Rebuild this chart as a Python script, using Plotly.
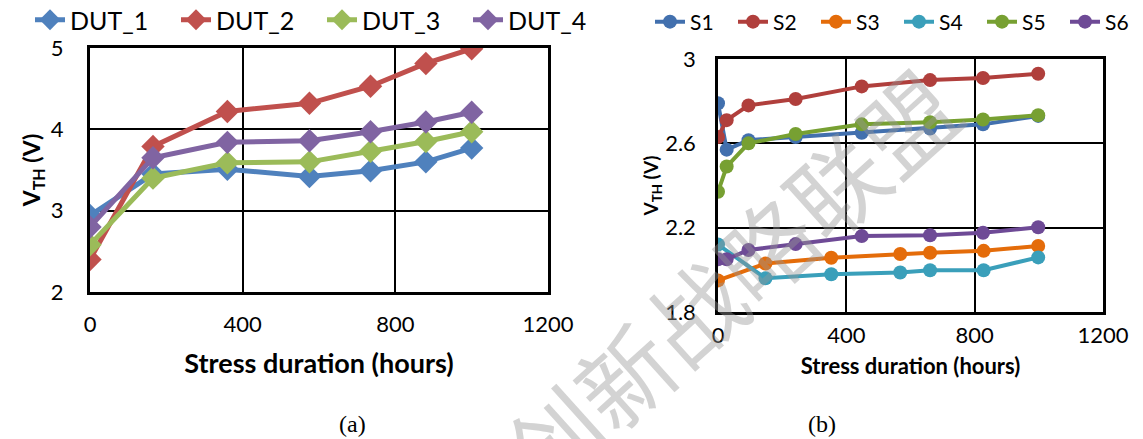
import plotly.graph_objects as go

# panel (a): threshold voltage vs stress time, four DUTs
hours_a = [0, 165, 360, 575, 735, 880, 1000]
dut_1 = [2.94, 3.45, 3.51, 3.42, 3.49, 3.60, 3.77]
dut_2 = [2.40, 3.79, 4.22, 4.32, 4.53, 4.81, 4.99]
dut_3 = [2.58, 3.40, 3.59, 3.60, 3.73, 3.85, 3.97]
dut_4 = [2.80, 3.65, 3.84, 3.86, 3.97, 4.09, 4.21]

# panel (b): six samples
hours_b = [0, 27, 95, 242, 448, 661, 826, 998]
hours_b34 = [0, 148, 353, 568, 661, 828, 998]
s1 = [2.79, 2.57, 2.615, 2.63, 2.65, 2.67, 2.69, 2.73]
s2 = [2.63, 2.71, 2.78, 2.81, 2.87, 2.90, 2.91, 2.93]
s3 = [1.95, 2.03, 2.057, 2.075, 2.081, 2.09, 2.113]
s4 = [2.12, 1.96, 1.979, 1.987, 1.998, 1.998, 2.059]
s5 = [2.37, 2.49, 2.60, 2.644, 2.69, 2.70, 2.713, 2.733]
s6 = [2.05, 2.05, 2.094, 2.122, 2.16, 2.164, 2.176, 2.202]

x_ticks = [0, 400, 800, 1200]
ya_ticks = [2, 3, 4, 5]
yb_ticks = [1.8, 2.2, 2.6, 3.0]
yb_labels = ["1.8", "2.2", "2.6", "3"]

colors_a = ["#4F81BD", "#C0504D", "#9BBB59", "#8064A2"]
colors_b = ["#4270AE", "#B03F3C", "#E46C0A", "#3A9FBA", "#77A032", "#6E4A96"]

FONT = "Lato"

fig = go.Figure()

for name, ys, c in zip(["DUT_1", "DUT_2", "DUT_3", "DUT_4"],
                       [dut_1, dut_2, dut_3, dut_4], colors_a):
    fig.add_trace(go.Scatter(x=hours_a, y=ys, name=name, mode="lines+markers",
                             line=dict(color=c, width=5),
                             marker=dict(symbol="diamond", size=18, color=c),
                             xaxis="x", yaxis="y", legend="legend"))

series_b = [("S1", hours_b, s1), ("S2", hours_b, s2), ("S3", hours_b34, s3),
            ("S4", hours_b34, s4), ("S5", hours_b, s5), ("S6", hours_b, s6)]
for (name, xs, ys), c in zip(series_b, colors_b):
    fig.add_trace(go.Scatter(x=xs, y=ys, name=name, mode="lines+markers",
                             line=dict(color=c, width=4),
                             marker=dict(symbol="circle", size=14, color=c),
                             xaxis="x2", yaxis="y2", legend="legend2"))

H = 439
W = 1143

def px_x(p):
    return p / W

def px_y(p):
    return 1 - p / H

axis_common = dict(showline=True, linecolor="black", mirror=True,
                   showgrid=True, gridcolor="black", zeroline=False,
                   ticks="outside", tickcolor="rgba(0,0,0,0)",
                   tickfont=dict(family=FONT, size=22, color="black"))

fig.update_layout(
    width=W, height=H,
    margin=dict(l=0, r=0, t=0, b=0, autoexpand=False),
    paper_bgcolor="white", plot_bgcolor="white",
    font=dict(family=FONT, color="black"),
    xaxis=dict(domain=[px_x(90), px_x(548)], range=[0, 1200], tickvals=x_ticks,
               anchor="y", linewidth=3, gridwidth=1.5, ticklen=11,
               title=dict(text="<b>Stress duration (hours)</b>",
                          font=dict(family=FONT, size=27), standoff=18),
               **axis_common),
    yaxis=dict(domain=[px_y(292), px_y(48)], range=[2, 5], tickvals=ya_ticks,
               anchor="x", linewidth=3, gridwidth=1.5, ticklen=19,
               title=dict(text="<b>V<sub>TH</sub> (V)</b>",
                          font=dict(family=FONT, size=23), standoff=4),
               **axis_common),
    xaxis2=dict(domain=[px_x(718), px_x(1103)], range=[0, 1200], tickvals=x_ticks,
                anchor="y2", linewidth=2.5, gridwidth=1.5, ticklen=2,
                title=dict(text="<b>Stress duration (hours)</b>",
                           font=dict(family=FONT, size=22), standoff=12),
                **axis_common),
    yaxis2=dict(domain=[px_y(312), px_y(59)], range=[1.8, 3.0], tickvals=yb_ticks,
                ticktext=yb_labels, anchor="x2", linewidth=2.5, gridwidth=1.5,
                ticklen=15,
                title=dict(text="<b>V<sub>TH</sub> (V)</b>",
                           font=dict(family=FONT, size=19), standoff=1),
                **axis_common),
    legend=dict(orientation="h", x=px_x(30), y=px_y(20), xanchor="left",
                yanchor="middle", font=dict(family=FONT, size=25),
                bgcolor="rgba(0,0,0,0)", itemwidth=30, entrywidth=101),
    legend2=dict(orientation="h", x=px_x(650), y=px_y(22), xanchor="left",
                 yanchor="middle", font=dict(family=FONT, size=21),
                 bgcolor="rgba(0,0,0,0)", itemwidth=30, entrywidth=38),
)

for label, cx in [("(a)", 352), ("(b)", 822)]:
    fig.add_annotation(x=px_x(cx), y=px_y(424), xref="paper", yref="paper",
                       xanchor="center", yanchor="middle",
                       text=label, showarrow=False,
                       font=dict(family="Liberation Serif", size=24, color="black"))

# watermark across panel (b)
fig.add_annotation(x=px_x(728), y=px_y(278), xref="paper", yref="paper",
                   xanchor="center", yanchor="middle",
                   text="创新战略联盟", showarrow=False, textangle=-42,
                   font=dict(family="Noto Sans CJK SC", size=95,
                             color="rgba(150,150,150,0.42)"))

# drop the default 8px page margin so the figure sits at the window corner
fig.write_html("out.html", config={"displayModeBar": False},
               post_script="document.body.style.margin='0';")
